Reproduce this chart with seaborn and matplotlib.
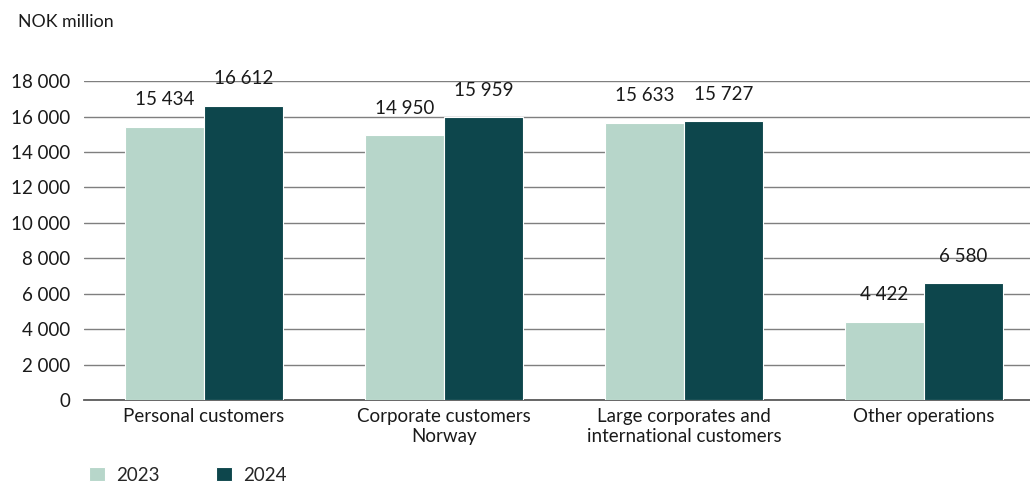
import matplotlib
matplotlib.use("Agg")
import matplotlib.pyplot as plt
import seaborn as sns
import pandas as pd

categories = ["Personal customers", "Corporate customers\nNorway",
              "Large corporates and\ninternational customers", "Other operations"]
values_2023 = [15434, 14950, 15633, 4422]
values_2024 = [16612, 15959, 15727, 6580]
years = ["2023", "2024"]
y_ticks = [0, 2000, 4000, 6000, 8000, 10000, 12000, 14000, 16000, 18000]

colors = ["#b2dbcb", "#024f57"]

sns.set_theme(style="white")
plt.rcParams["font.family"] = ["Lato", "DejaVu Sans"]

df = pd.DataFrame({
    "category": categories * 2,
    "value": values_2023 + values_2024,
    "year": [years[0]] * 4 + [years[1]] * 4,
})

fig = plt.figure(figsize=(10.3, 4.83), dpi=100)
ax = fig.add_axes([0.0816, 0.172, 0.932, 0.66])

sns.barplot(data=df, x="category", y="value", hue="year", palette=colors,
            width=0.66, edgecolor="white", linewidth=0.8, ax=ax, legend=True,
            zorder=3)

def fmt(v):
    return f"{int(v):,}".replace(",", " ")

for cont in ax.containers:
    for bar in cont:
        h = bar.get_height()
        ax.text(bar.get_x() + bar.get_width() / 2, h + 1050, fmt(h),
                ha="center", va="bottom", fontsize=13.5, color="#1a1a1a")

ax.set_ylim(0, 18000)
ax.set_yticks(y_ticks)
ax.set_yticklabels([fmt(t) for t in y_ticks], fontsize=13.5, color="#1a1a1a")
ax.tick_params(axis="y", length=0, pad=10)
ax.tick_params(axis="x", length=0, pad=6, labelsize=13.5, labelcolor="#1a1a1a")
ax.set_xlim(-0.5, 3.5)
ax.set_xlabel("")
ax.set_ylabel("")
ax.yaxis.grid(True, color="#7f7f7f", linewidth=1.0, zorder=0)
ax.set_axisbelow(True)
for s in ["left", "right", "top"]:
    ax.spines[s].set_visible(False)
ax.spines["bottom"].set_color("#5a5a5a")
ax.spines["bottom"].set_linewidth(1.3)

fig.text(0.0175, 0.954, "NOK million", fontsize=12.8, color="#1a1a1a", va="center")

handles, labels = ax.get_legend_handles_labels()
ax.legend(handles, labels, loc="center left", bbox_to_anchor=(0.086, 0.016),
          bbox_transform=fig.transFigure, ncol=2, frameon=False, fontsize=13.5,
          handlelength=0.9, handleheight=0.75, columnspacing=3.0, handletextpad=0.55,
          borderaxespad=0.0, borderpad=0.0)

fig.savefig("out.png", dpi=100)
